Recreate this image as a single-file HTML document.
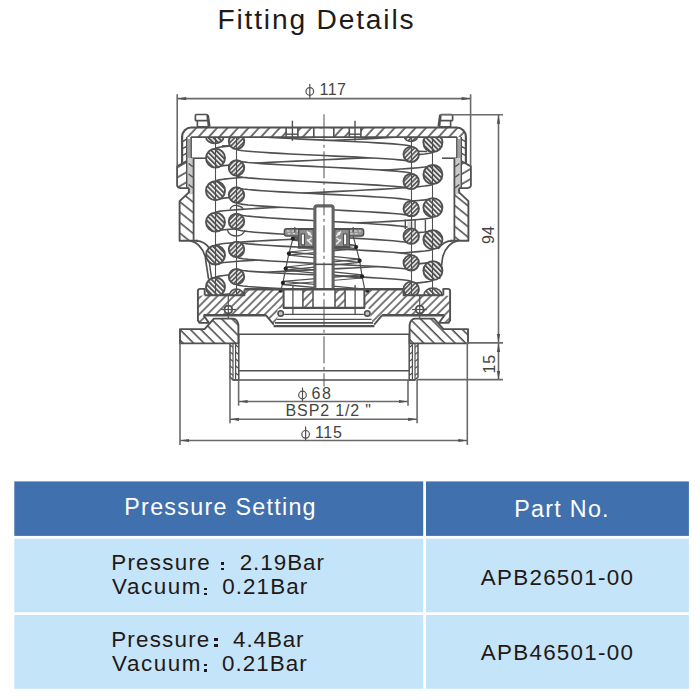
<!DOCTYPE html>
<html><head><meta charset="utf-8"><title>Fitting Details</title>
<style>
html,body{margin:0;padding:0;background:#fff;}
body{width:700px;height:700px;position:relative;overflow:hidden;font-family:"Liberation Sans",sans-serif;}
.t{position:absolute;white-space:nowrap;font-family:"Liberation Sans",sans-serif;}
.d{position:absolute;background:#231815;}
</style></head><body>
<svg width="700" height="700" viewBox="0 0 700 700" style="position:absolute;left:0;top:0"><rect x="14.3" y="481.4" width="408.9" height="54.5" fill="#4070ae"/><rect x="426.0" y="481.4" width="262.9" height="54.5" fill="#4070ae"/><rect x="14.3" y="538.7" width="408.9" height="73.6" fill="#c4e5f9"/><rect x="426.0" y="538.7" width="262.9" height="73.6" fill="#c4e5f9"/><rect x="14.3" y="615.0" width="408.9" height="73.8" fill="#c4e5f9"/><rect x="426.0" y="615.0" width="262.9" height="73.8" fill="#c4e5f9"/></svg>
<svg width="700" height="700" viewBox="0 0 700 700" style="position:absolute;left:0;top:0" stroke="#505050" fill="none" stroke-linecap="butt" stroke-linejoin="round">
<defs>
<pattern id="hCap" width="7.7" height="7.7" patternUnits="userSpaceOnUse" patternTransform="rotate(42.5) translate(-1.9 0)"><line x1="2" y1="-1" x2="2" y2="9" stroke-width="1.6"/></pattern>
<pattern id="hWall" width="8.1" height="8.1" patternUnits="userSpaceOnUse" patternTransform="rotate(-51) translate(3 0)"><line x1="2" y1="-1" x2="2" y2="10" stroke-width="1.6"/></pattern>
<pattern id="hSkirt" width="8.7" height="8.7" patternUnits="userSpaceOnUse" patternTransform="rotate(60) translate(5.5 0)"><line x1="2" y1="-1" x2="2" y2="10" stroke-width="1.6"/></pattern>
<pattern id="hPlate" width="5.8" height="5.8" patternUnits="userSpaceOnUse" patternTransform="rotate(45) translate(2.55 0)"><line x1="1" y1="-1" x2="1" y2="7" stroke-width="1.5"/></pattern>
<pattern id="hFl" width="7.4" height="7.4" patternUnits="userSpaceOnUse" patternTransform="rotate(-45) translate(3.26 0)"><line x1="2" y1="-1" x2="2" y2="9" stroke-width="1.6"/></pattern>
<pattern id="hBig" width="3.5" height="3.5" patternUnits="userSpaceOnUse" patternTransform="rotate(-45)"><line x1="1" y1="-1" x2="1" y2="5" stroke-width="1.95"/></pattern>
<pattern id="hSm" width="3.2" height="3.2" patternUnits="userSpaceOnUse" patternTransform="rotate(45)"><line x1="1" y1="-1" x2="1" y2="5" stroke-width="1.75"/></pattern>
</defs>
<g id="bigspring">
<path d="M215.5,148.6 L216.43,147.95 L219.2,147.3 L223.77,146.65 L230.06,146.0 L237.96,145.35 L247.34,144.7 L258.03,144.05 L269.85,143.4 L282.6,142.75 L296.07,142.1 L310.01,141.45 L324.2,140.8 L338.39,140.15 L352.33,139.5 L365.8,138.85 L378.55,138.2 L390.37,137.55 L401.06,136.9 L410.44,136.25 L418.34,135.6 L424.63,134.95 L429.2,134.3 L431.97,133.65 L432.9,133.0 L432.9,152.0 L431.97,152.65 L429.2,153.3 L424.63,153.95 L418.34,154.6 L410.44,155.25 L401.06,155.9 L390.37,156.55 L378.55,157.2 L365.8,157.85 L352.33,158.5 L338.39,159.15 L324.2,159.8 L310.01,160.45 L296.07,161.1 L282.6,161.75 L269.85,162.4 L258.03,163.05 L247.34,163.7 L237.96,164.35 L230.06,165.0 L223.77,165.65 L219.2,166.3 L216.43,166.95 L215.5,167.6 Z" fill="#fff" stroke-width="1.0" stroke="none"/>
<path d="M215.5,148.6 L216.43,147.95 L219.2,147.3 L223.77,146.65 L230.06,146.0 L237.96,145.35 L247.34,144.7 L258.03,144.05 L269.85,143.4 L282.6,142.75 L296.07,142.1 L310.01,141.45 L324.2,140.8 L338.39,140.15 L352.33,139.5 L365.8,138.85 L378.55,138.2 L390.37,137.55 L401.06,136.9 L410.44,136.25 L418.34,135.6 L424.63,134.95 L429.2,134.3 L431.97,133.65 L432.9,133.0" fill="none" stroke-width="1.6" />
<path d="M215.5,167.6 L216.43,166.95 L219.2,166.3 L223.77,165.65 L230.06,165.0 L237.96,164.35 L247.34,163.7 L258.03,163.05 L269.85,162.4 L282.6,161.75 L296.07,161.1 L310.01,160.45 L324.2,159.8 L338.39,159.15 L352.33,158.5 L365.8,157.85 L378.55,157.2 L390.37,156.55 L401.06,155.9 L410.44,155.25 L418.34,154.6 L424.63,153.95 L429.2,153.3 L431.97,152.65 L432.9,152.0" fill="none" stroke-width="1.6" />
<path d="M215.5,181.2 L216.43,180.52 L219.2,179.85 L223.77,179.17 L230.06,178.5 L237.96,177.82 L247.34,177.15 L258.03,176.47 L269.85,175.8 L282.6,175.12 L296.07,174.45 L310.01,173.78 L324.2,173.1 L338.39,172.42 L352.33,171.75 L365.8,171.07 L378.55,170.4 L390.37,169.72 L401.06,169.05 L410.44,168.38 L418.34,167.7 L424.63,167.03 L429.2,166.35 L431.97,165.68 L432.9,165.0 L432.9,184.0 L431.97,184.68 L429.2,185.35 L424.63,186.03 L418.34,186.7 L410.44,187.38 L401.06,188.05 L390.37,188.72 L378.55,189.4 L365.8,190.07 L352.33,190.75 L338.39,191.42 L324.2,192.1 L310.01,192.78 L296.07,193.45 L282.6,194.12 L269.85,194.8 L258.03,195.47 L247.34,196.15 L237.96,196.82 L230.06,197.5 L223.77,198.17 L219.2,198.85 L216.43,199.52 L215.5,200.2 Z" fill="#fff" stroke-width="1.0" stroke="none"/>
<path d="M215.5,181.2 L216.43,180.52 L219.2,179.85 L223.77,179.17 L230.06,178.5 L237.96,177.82 L247.34,177.15 L258.03,176.47 L269.85,175.8 L282.6,175.12 L296.07,174.45 L310.01,173.78 L324.2,173.1 L338.39,172.42 L352.33,171.75 L365.8,171.07 L378.55,170.4 L390.37,169.72 L401.06,169.05 L410.44,168.38 L418.34,167.7 L424.63,167.03 L429.2,166.35 L431.97,165.68 L432.9,165.0" fill="none" stroke-width="1.6" />
<path d="M215.5,200.2 L216.43,199.52 L219.2,198.85 L223.77,198.17 L230.06,197.5 L237.96,196.82 L247.34,196.15 L258.03,195.47 L269.85,194.8 L282.6,194.12 L296.07,193.45 L310.01,192.78 L324.2,192.1 L338.39,191.42 L352.33,190.75 L365.8,190.07 L378.55,189.4 L390.37,188.72 L401.06,188.05 L410.44,187.38 L418.34,186.7 L424.63,186.03 L429.2,185.35 L431.97,184.68 L432.9,184.0" fill="none" stroke-width="1.6" />
<path d="M215.5,212.6 L216.43,212.0 L219.2,211.39 L223.77,210.79 L230.06,210.18 L237.96,209.58 L247.34,208.97 L258.03,208.37 L269.85,207.77 L282.6,207.16 L296.07,206.56 L310.01,205.95 L324.2,205.35 L338.39,204.75 L352.33,204.14 L365.8,203.54 L378.55,202.93 L390.37,202.33 L401.06,201.72 L410.44,201.12 L418.34,200.52 L424.63,199.91 L429.2,199.31 L431.97,198.7 L432.9,198.1 L432.9,217.1 L431.97,217.7 L429.2,218.31 L424.63,218.91 L418.34,219.52 L410.44,220.12 L401.06,220.72 L390.37,221.33 L378.55,221.93 L365.8,222.54 L352.33,223.14 L338.39,223.75 L324.2,224.35 L310.01,224.95 L296.07,225.56 L282.6,226.16 L269.85,226.77 L258.03,227.37 L247.34,227.97 L237.96,228.58 L230.06,229.18 L223.77,229.79 L219.2,230.39 L216.43,231.0 L215.5,231.6 Z" fill="#fff" stroke-width="1.0" stroke="none"/>
<path d="M215.5,212.6 L216.43,212.0 L219.2,211.39 L223.77,210.79 L230.06,210.18 L237.96,209.58 L247.34,208.97 L258.03,208.37 L269.85,207.77 L282.6,207.16 L296.07,206.56 L310.01,205.95 L324.2,205.35 L338.39,204.75 L352.33,204.14 L365.8,203.54 L378.55,202.93 L390.37,202.33 L401.06,201.72 L410.44,201.12 L418.34,200.52 L424.63,199.91 L429.2,199.31 L431.97,198.7 L432.9,198.1" fill="none" stroke-width="1.6" />
<path d="M215.5,231.6 L216.43,231.0 L219.2,230.39 L223.77,229.79 L230.06,229.18 L237.96,228.58 L247.34,227.97 L258.03,227.37 L269.85,226.77 L282.6,226.16 L296.07,225.56 L310.01,224.95 L324.2,224.35 L338.39,223.75 L352.33,223.14 L365.8,222.54 L378.55,221.93 L390.37,221.33 L401.06,220.72 L410.44,220.12 L418.34,219.52 L424.63,218.91 L429.2,218.31 L431.97,217.7 L432.9,217.1" fill="none" stroke-width="1.6" />
<path d="M215.5,245.5 L216.43,244.86 L219.2,244.22 L223.77,243.57 L230.06,242.93 L237.96,242.29 L247.34,241.65 L258.03,241.01 L269.85,240.37 L282.6,239.72 L296.07,239.08 L310.01,238.44 L324.2,237.8 L338.39,237.16 L352.33,236.52 L365.8,235.88 L378.55,235.23 L390.37,234.59 L401.06,233.95 L410.44,233.31 L418.34,232.67 L424.63,232.03 L429.2,231.38 L431.97,230.74 L432.9,230.1 L432.9,249.1 L431.97,249.74 L429.2,250.38 L424.63,251.03 L418.34,251.67 L410.44,252.31 L401.06,252.95 L390.37,253.59 L378.55,254.23 L365.8,254.88 L352.33,255.52 L338.39,256.16 L324.2,256.8 L310.01,257.44 L296.07,258.08 L282.6,258.73 L269.85,259.37 L258.03,260.01 L247.34,260.65 L237.96,261.29 L230.06,261.93 L223.77,262.57 L219.2,263.22 L216.43,263.86 L215.5,264.5 Z" fill="#fff" stroke-width="1.0" stroke="none"/>
<path d="M215.5,245.5 L216.43,244.86 L219.2,244.22 L223.77,243.57 L230.06,242.93 L237.96,242.29 L247.34,241.65 L258.03,241.01 L269.85,240.37 L282.6,239.72 L296.07,239.08 L310.01,238.44 L324.2,237.8 L338.39,237.16 L352.33,236.52 L365.8,235.88 L378.55,235.23 L390.37,234.59 L401.06,233.95 L410.44,233.31 L418.34,232.67 L424.63,232.03 L429.2,231.38 L431.97,230.74 L432.9,230.1" fill="none" stroke-width="1.6" />
<path d="M215.5,264.5 L216.43,263.86 L219.2,263.22 L223.77,262.57 L230.06,261.93 L237.96,261.29 L247.34,260.65 L258.03,260.01 L269.85,259.37 L282.6,258.73 L296.07,258.08 L310.01,257.44 L324.2,256.8 L338.39,256.16 L352.33,255.52 L365.8,254.88 L378.55,254.23 L390.37,253.59 L401.06,252.95 L410.44,252.31 L418.34,251.67 L424.63,251.03 L429.2,250.38 L431.97,249.74 L432.9,249.1" fill="none" stroke-width="1.6" />
<path d="M215.5,277.5 L216.43,276.82 L219.2,276.13 L223.77,275.45 L230.06,274.77 L237.96,274.08 L247.34,273.4 L258.03,272.72 L269.85,272.03 L282.6,271.35 L296.07,270.67 L310.01,269.98 L324.2,269.3 L338.39,268.62 L352.33,267.93 L365.8,267.25 L378.55,266.57 L390.37,265.88 L401.06,265.2 L410.44,264.52 L418.34,263.83 L424.63,263.15 L429.2,262.47 L431.97,261.78 L432.9,261.1 L432.9,280.1 L431.97,280.78 L429.2,281.47 L424.63,282.15 L418.34,282.83 L410.44,283.52 L401.06,284.2 L390.37,284.88 L378.55,285.57 L365.8,286.25 L352.33,286.93 L338.39,287.62 L324.2,288.3 L310.01,288.98 L296.07,289.67 L282.6,290.35 L269.85,291.03 L258.03,291.72 L247.34,292.4 L237.96,293.08 L230.06,293.77 L223.77,294.45 L219.2,295.13 L216.43,295.82 L215.5,296.5 Z" fill="#fff" stroke-width="1.0" stroke="none"/>
<path d="M215.5,277.5 L216.43,276.82 L219.2,276.13 L223.77,275.45 L230.06,274.77 L237.96,274.08 L247.34,273.4 L258.03,272.72 L269.85,272.03 L282.6,271.35 L296.07,270.67 L310.01,269.98 L324.2,269.3 L338.39,268.62 L352.33,267.93 L365.8,267.25 L378.55,266.57 L390.37,265.88 L401.06,265.2 L410.44,264.52 L418.34,263.83 L424.63,263.15 L429.2,262.47 L431.97,261.78 L432.9,261.1" fill="none" stroke-width="1.6" />
<path d="M215.5,296.5 L216.43,295.82 L219.2,295.13 L223.77,294.45 L230.06,293.77 L237.96,293.08 L247.34,292.4 L258.03,291.72 L269.85,291.03 L282.6,290.35 L296.07,289.67 L310.01,288.98 L324.2,288.3 L338.39,287.62 L352.33,286.93 L365.8,286.25 L378.55,285.57 L390.37,284.88 L401.06,284.2 L410.44,283.52 L418.34,282.83 L424.63,282.15 L429.2,281.47 L431.97,280.78 L432.9,280.1" fill="none" stroke-width="1.6" />
</g>
<line x1="222" y1="145.8" x2="427" y2="151.5" stroke-width="1.5" />
<g id="smallspring">
<path d="M236.5,133.7 L237.25,134.24 L239.48,134.78 L243.15,135.31 L248.2,135.85 L254.55,136.39 L262.08,136.93 L270.67,137.46 L280.18,138.0 L290.42,138.54 L301.24,139.08 L312.45,139.61 L323.85,140.15 L335.25,140.69 L346.46,141.23 L357.28,141.76 L367.52,142.3 L377.03,142.84 L385.62,143.38 L393.15,143.91 L399.5,144.45 L404.55,144.99 L408.22,145.53 L410.45,146.06 L411.2,146.6 L411.2,162.0 L410.45,161.46 L408.22,160.93 L404.55,160.39 L399.5,159.85 L393.15,159.31 L385.62,158.78 L377.03,158.24 L367.52,157.7 L357.28,157.16 L346.46,156.62 L335.25,156.09 L323.85,155.55 L312.45,155.01 L301.24,154.47 L290.42,153.94 L280.18,153.4 L270.67,152.86 L262.08,152.32 L254.55,151.79 L248.2,151.25 L243.15,150.71 L239.48,150.17 L237.25,149.64 L236.5,149.1 Z" fill="#fff" stroke-width="1.0" stroke="none"/>
<path d="M236.5,133.7 L237.25,134.24 L239.48,134.78 L243.15,135.31 L248.2,135.85 L254.55,136.39 L262.08,136.93 L270.67,137.46 L280.18,138.0 L290.42,138.54 L301.24,139.08 L312.45,139.61 L323.85,140.15 L335.25,140.69 L346.46,141.23 L357.28,141.76 L367.52,142.3 L377.03,142.84 L385.62,143.38 L393.15,143.91 L399.5,144.45 L404.55,144.99 L408.22,145.53 L410.45,146.06 L411.2,146.6" fill="none" stroke-width="1.6" />
<path d="M236.5,149.1 L237.25,149.64 L239.48,150.17 L243.15,150.71 L248.2,151.25 L254.55,151.79 L262.08,152.32 L270.67,152.86 L280.18,153.4 L290.42,153.94 L301.24,154.47 L312.45,155.01 L323.85,155.55 L335.25,156.09 L346.46,156.62 L357.28,157.16 L367.52,157.7 L377.03,158.24 L385.62,158.78 L393.15,159.31 L399.5,159.85 L404.55,160.39 L408.22,160.93 L410.45,161.46 L411.2,162.0" fill="none" stroke-width="1.6" />
<path d="M236.5,160.2 L237.25,160.76 L239.48,161.33 L243.15,161.89 L248.2,162.45 L254.55,163.01 L262.08,163.58 L270.67,164.14 L280.18,164.7 L290.42,165.26 L301.24,165.83 L312.45,166.39 L323.85,166.95 L335.25,167.51 L346.46,168.08 L357.28,168.64 L367.52,169.2 L377.03,169.76 L385.62,170.33 L393.15,170.89 L399.5,171.45 L404.55,172.01 L408.22,172.58 L410.45,173.14 L411.2,173.7 L411.2,189.1 L410.45,188.54 L408.22,187.97 L404.55,187.41 L399.5,186.85 L393.15,186.29 L385.62,185.72 L377.03,185.16 L367.52,184.6 L357.28,184.04 L346.46,183.47 L335.25,182.91 L323.85,182.35 L312.45,181.79 L301.24,181.22 L290.42,180.66 L280.18,180.1 L270.67,179.54 L262.08,178.97 L254.55,178.41 L248.2,177.85 L243.15,177.29 L239.48,176.72 L237.25,176.16 L236.5,175.6 Z" fill="#fff" stroke-width="1.0" stroke="none"/>
<path d="M236.5,160.2 L237.25,160.76 L239.48,161.33 L243.15,161.89 L248.2,162.45 L254.55,163.01 L262.08,163.58 L270.67,164.14 L280.18,164.7 L290.42,165.26 L301.24,165.83 L312.45,166.39 L323.85,166.95 L335.25,167.51 L346.46,168.08 L357.28,168.64 L367.52,169.2 L377.03,169.76 L385.62,170.33 L393.15,170.89 L399.5,171.45 L404.55,172.01 L408.22,172.58 L410.45,173.14 L411.2,173.7" fill="none" stroke-width="1.6" />
<path d="M236.5,175.6 L237.25,176.16 L239.48,176.72 L243.15,177.29 L248.2,177.85 L254.55,178.41 L262.08,178.97 L270.67,179.54 L280.18,180.1 L290.42,180.66 L301.24,181.22 L312.45,181.79 L323.85,182.35 L335.25,182.91 L346.46,183.47 L357.28,184.04 L367.52,184.6 L377.03,185.16 L385.62,185.72 L393.15,186.29 L399.5,186.85 L404.55,187.41 L408.22,187.97 L410.45,188.54 L411.2,189.1" fill="none" stroke-width="1.6" />
<path d="M236.5,187.3 L237.25,187.87 L239.48,188.43 L243.15,189.0 L248.2,189.57 L254.55,190.13 L262.08,190.7 L270.67,191.27 L280.18,191.83 L290.42,192.4 L301.24,192.97 L312.45,193.53 L323.85,194.1 L335.25,194.67 L346.46,195.23 L357.28,195.8 L367.52,196.37 L377.03,196.93 L385.62,197.5 L393.15,198.07 L399.5,198.63 L404.55,199.2 L408.22,199.77 L410.45,200.33 L411.2,200.9 L411.2,216.3 L410.45,215.73 L408.22,215.17 L404.55,214.6 L399.5,214.03 L393.15,213.47 L385.62,212.9 L377.03,212.33 L367.52,211.77 L357.28,211.2 L346.46,210.63 L335.25,210.07 L323.85,209.5 L312.45,208.93 L301.24,208.37 L290.42,207.8 L280.18,207.23 L270.67,206.67 L262.08,206.1 L254.55,205.53 L248.2,204.97 L243.15,204.4 L239.48,203.83 L237.25,203.27 L236.5,202.7 Z" fill="#fff" stroke-width="1.0" stroke="none"/>
<path d="M236.5,187.3 L237.25,187.87 L239.48,188.43 L243.15,189.0 L248.2,189.57 L254.55,190.13 L262.08,190.7 L270.67,191.27 L280.18,191.83 L290.42,192.4 L301.24,192.97 L312.45,193.53 L323.85,194.1 L335.25,194.67 L346.46,195.23 L357.28,195.8 L367.52,196.37 L377.03,196.93 L385.62,197.5 L393.15,198.07 L399.5,198.63 L404.55,199.2 L408.22,199.77 L410.45,200.33 L411.2,200.9" fill="none" stroke-width="1.6" />
<path d="M236.5,202.7 L237.25,203.27 L239.48,203.83 L243.15,204.4 L248.2,204.97 L254.55,205.53 L262.08,206.1 L270.67,206.67 L280.18,207.23 L290.42,207.8 L301.24,208.37 L312.45,208.93 L323.85,209.5 L335.25,210.07 L346.46,210.63 L357.28,211.2 L367.52,211.77 L377.03,212.33 L385.62,212.9 L393.15,213.47 L399.5,214.03 L404.55,214.6 L408.22,215.17 L410.45,215.73 L411.2,216.3" fill="none" stroke-width="1.6" />
<path d="M236.5,213.7 L237.25,214.32 L239.48,214.93 L243.15,215.55 L248.2,216.17 L254.55,216.78 L262.08,217.4 L270.67,218.02 L280.18,218.63 L290.42,219.25 L301.24,219.87 L312.45,220.48 L323.85,221.1 L335.25,221.72 L346.46,222.33 L357.28,222.95 L367.52,223.57 L377.03,224.18 L385.62,224.8 L393.15,225.42 L399.5,226.03 L404.55,226.65 L408.22,227.27 L410.45,227.88 L411.2,228.5 L411.2,243.9 L410.45,243.28 L408.22,242.67 L404.55,242.05 L399.5,241.43 L393.15,240.82 L385.62,240.2 L377.03,239.58 L367.52,238.97 L357.28,238.35 L346.46,237.73 L335.25,237.12 L323.85,236.5 L312.45,235.88 L301.24,235.27 L290.42,234.65 L280.18,234.03 L270.67,233.42 L262.08,232.8 L254.55,232.18 L248.2,231.57 L243.15,230.95 L239.48,230.33 L237.25,229.72 L236.5,229.1 Z" fill="#fff" stroke-width="1.0" stroke="none"/>
<path d="M236.5,213.7 L237.25,214.32 L239.48,214.93 L243.15,215.55 L248.2,216.17 L254.55,216.78 L262.08,217.4 L270.67,218.02 L280.18,218.63 L290.42,219.25 L301.24,219.87 L312.45,220.48 L323.85,221.1 L335.25,221.72 L346.46,222.33 L357.28,222.95 L367.52,223.57 L377.03,224.18 L385.62,224.8 L393.15,225.42 L399.5,226.03 L404.55,226.65 L408.22,227.27 L410.45,227.88 L411.2,228.5" fill="none" stroke-width="1.6" />
<path d="M236.5,229.1 L237.25,229.72 L239.48,230.33 L243.15,230.95 L248.2,231.57 L254.55,232.18 L262.08,232.8 L270.67,233.42 L280.18,234.03 L290.42,234.65 L301.24,235.27 L312.45,235.88 L323.85,236.5 L335.25,237.12 L346.46,237.73 L357.28,238.35 L367.52,238.97 L377.03,239.58 L385.62,240.2 L393.15,240.82 L399.5,241.43 L404.55,242.05 L408.22,242.67 L410.45,243.28 L411.2,243.9" fill="none" stroke-width="1.6" />
<path d="M236.5,241.6 L237.25,242.16 L239.48,242.73 L243.15,243.29 L248.2,243.85 L254.55,244.41 L262.08,244.98 L270.67,245.54 L280.18,246.1 L290.42,246.66 L301.24,247.23 L312.45,247.79 L323.85,248.35 L335.25,248.91 L346.46,249.48 L357.28,250.04 L367.52,250.6 L377.03,251.16 L385.62,251.73 L393.15,252.29 L399.5,252.85 L404.55,253.41 L408.22,253.98 L410.45,254.54 L411.2,255.1 L411.2,270.5 L410.45,269.94 L408.22,269.38 L404.55,268.81 L399.5,268.25 L393.15,267.69 L385.62,267.12 L377.03,266.56 L367.52,266.0 L357.28,265.44 L346.46,264.88 L335.25,264.31 L323.85,263.75 L312.45,263.19 L301.24,262.62 L290.42,262.06 L280.18,261.5 L270.67,260.94 L262.08,260.38 L254.55,259.81 L248.2,259.25 L243.15,258.69 L239.48,258.12 L237.25,257.56 L236.5,257.0 Z" fill="#fff" stroke-width="1.0" stroke="none"/>
<path d="M236.5,241.6 L237.25,242.16 L239.48,242.73 L243.15,243.29 L248.2,243.85 L254.55,244.41 L262.08,244.98 L270.67,245.54 L280.18,246.1 L290.42,246.66 L301.24,247.23 L312.45,247.79 L323.85,248.35 L335.25,248.91 L346.46,249.48 L357.28,250.04 L367.52,250.6 L377.03,251.16 L385.62,251.73 L393.15,252.29 L399.5,252.85 L404.55,253.41 L408.22,253.98 L410.45,254.54 L411.2,255.1" fill="none" stroke-width="1.6" />
<path d="M236.5,257.0 L237.25,257.56 L239.48,258.12 L243.15,258.69 L248.2,259.25 L254.55,259.81 L262.08,260.38 L270.67,260.94 L280.18,261.5 L290.42,262.06 L301.24,262.62 L312.45,263.19 L323.85,263.75 L335.25,264.31 L346.46,264.88 L357.28,265.44 L367.52,266.0 L377.03,266.56 L385.62,267.12 L393.15,267.69 L399.5,268.25 L404.55,268.81 L408.22,269.38 L410.45,269.94 L411.2,270.5" fill="none" stroke-width="1.6" />
<path d="M236.5,269.0 L237.25,269.52 L239.48,270.05 L243.15,270.57 L248.2,271.1 L254.55,271.62 L262.08,272.15 L270.67,272.68 L280.18,273.2 L290.42,273.73 L301.24,274.25 L312.45,274.78 L323.85,275.3 L335.25,275.82 L346.46,276.35 L357.28,276.88 L367.52,277.4 L377.03,277.93 L385.62,278.45 L393.15,278.98 L399.5,279.5 L404.55,280.03 L408.22,280.55 L410.45,281.08 L411.2,281.6 L411.2,297.0 L410.45,296.48 L408.22,295.95 L404.55,295.43 L399.5,294.9 L393.15,294.38 L385.62,293.85 L377.03,293.32 L367.52,292.8 L357.28,292.27 L346.46,291.75 L335.25,291.22 L323.85,290.7 L312.45,290.18 L301.24,289.65 L290.42,289.12 L280.18,288.6 L270.67,288.07 L262.08,287.55 L254.55,287.02 L248.2,286.5 L243.15,285.97 L239.48,285.45 L237.25,284.92 L236.5,284.4 Z" fill="#fff" stroke-width="1.0" stroke="none"/>
<path d="M236.5,269.0 L237.25,269.52 L239.48,270.05 L243.15,270.57 L248.2,271.1 L254.55,271.62 L262.08,272.15 L270.67,272.68 L280.18,273.2 L290.42,273.73 L301.24,274.25 L312.45,274.78 L323.85,275.3 L335.25,275.82 L346.46,276.35 L357.28,276.88 L367.52,277.4 L377.03,277.93 L385.62,278.45 L393.15,278.98 L399.5,279.5 L404.55,280.03 L408.22,280.55 L410.45,281.08 L411.2,281.6" fill="none" stroke-width="1.6" />
<path d="M236.5,284.4 L237.25,284.92 L239.48,285.45 L243.15,285.97 L248.2,286.5 L254.55,287.02 L262.08,287.55 L270.67,288.07 L280.18,288.6 L290.42,289.12 L301.24,289.65 L312.45,290.18 L323.85,290.7 L335.25,291.22 L346.46,291.75 L357.28,292.27 L367.52,292.8 L377.03,293.32 L385.62,293.85 L393.15,294.38 L399.5,294.9 L404.55,295.43 L408.22,295.95 L410.45,296.48 L411.2,297.0" fill="none" stroke-width="1.6" />
</g>
<path d="M230,209.5 q2,-5 7,-4 q5,1 6,3.5" fill="none" stroke-width="1.3" />
<path d="M227,229 q2,7 9,7 q7,0 9,-6" fill="none" stroke-width="1.3" />
<line x1="405.3" y1="219.5" x2="405.3" y2="229" stroke-width="1.4" />
<line x1="415.1" y1="219.5" x2="415.1" y2="229" stroke-width="1.4" />
<line x1="425.4" y1="219.7" x2="425.4" y2="232.6" stroke-width="1.4" />
<rect x="407.5" y="221.5" width="6" height="6.5" fill="#d8d8d8" stroke="none"/>
<line x1="292.9" y1="237.0" x2="356.1" y2="245.5" stroke-width="1.3" />
<line x1="292.9" y1="240.2" x2="356.1" y2="248.7" stroke-width="1.3" />
<line x1="288.9" y1="252.0" x2="359.6" y2="259.09999999999997" stroke-width="1.3" />
<line x1="288.9" y1="255.2" x2="359.6" y2="262.3" stroke-width="1.3" />
<line x1="285.7" y1="267.0" x2="362.1" y2="274.79999999999995" stroke-width="1.3" />
<line x1="285.7" y1="270.20000000000005" x2="362.1" y2="278.0" stroke-width="1.3" />
<line x1="282.9" y1="281.29999999999995" x2="365.0" y2="289.09999999999997" stroke-width="1.3" />
<line x1="282.9" y1="284.5" x2="365.0" y2="292.3" stroke-width="1.3" />
<line x1="288.9" y1="252.0" x2="356.1" y2="245.5" stroke-width="1.2" />
<line x1="288.9" y1="255.2" x2="356.1" y2="248.7" stroke-width="1.2" />
<line x1="285.7" y1="267.0" x2="359.6" y2="259.09999999999997" stroke-width="1.2" />
<line x1="285.7" y1="270.20000000000005" x2="359.6" y2="262.3" stroke-width="1.2" />
<line x1="282.9" y1="281.29999999999995" x2="362.1" y2="274.79999999999995" stroke-width="1.2" />
<line x1="282.9" y1="284.5" x2="362.1" y2="278.0" stroke-width="1.2" />
<path d="M292.9,238.6 L288.9,253.6 L285.7,268.6 L282.9,282.9 L280.7,290.7" fill="none" stroke-width="1.2" />
<path d="M352.1,232.1 L356.1,247.1 L359.6,260.7 L362.1,276.4 L365.0,290.7" fill="none" stroke-width="1.2" />
<circle cx="292.9" cy="238.6" r="2.1" fill="#222" stroke="none"/>
<circle cx="288.9" cy="253.6" r="2.1" fill="#222" stroke="none"/>
<circle cx="285.7" cy="268.6" r="2.1" fill="#222" stroke="none"/>
<circle cx="282.9" cy="282.9" r="2.1" fill="#222" stroke="none"/>
<circle cx="280.7" cy="290.7" r="2.1" fill="#222" stroke="none"/>
<circle cx="352.1" cy="232.1" r="2.1" fill="#222" stroke="none"/>
<circle cx="356.1" cy="247.1" r="2.1" fill="#222" stroke="none"/>
<circle cx="359.6" cy="260.7" r="2.1" fill="#222" stroke="none"/>
<circle cx="362.1" cy="276.4" r="2.1" fill="#222" stroke="none"/>
<circle cx="365.0" cy="290.7" r="2.1" fill="#222" stroke="none"/>
<path d="M190,240.7 Q201.5,243.5 205.3,257 Q206.5,266 208.6,279" stroke-width="1.7"/>
<path d="M196,240.7 Q205,241.5 210,249" stroke-width="1.7"/>
<path d="M209.3,262 Q210.5,272 212,280" stroke-width="1.5"/>
<path d="M458.0,240.7 Q446.5,243.5 442.7,257 Q441.5,266 439.4,279" stroke-width="1.7"/>
<path d="M452.0,240.7 Q443.0,241.5 438.0,249" stroke-width="1.7"/>
<path d="M438.7,262 Q437.5,272 436.0,280" stroke-width="1.5"/>
<clipPath id="clipTop"><rect x="170" y="137.1" width="310" height="158"/></clipPath>
<g clip-path="url(#clipTop)">
<ellipse cx="214.8" cy="137.1" rx="8.9" ry="6.2" fill="#fff" stroke="none"/><ellipse cx="214.8" cy="137.1" rx="8.9" ry="6.2" fill="url(#hBig)" stroke-width="1.7"/>
<ellipse cx="411" cy="137.1" rx="6.5" ry="4.4" fill="#fff" stroke="none"/><ellipse cx="411" cy="137.1" rx="6.5" ry="4.4" fill="url(#hSm)" stroke-width="1.6"/>
<circle cx="215.5" cy="158.1" r="9.5" fill="#fff" stroke="none"/>
<circle cx="215.5" cy="158.1" r="9.5" fill="url(#hBig)" stroke-width="1.9"/>
<circle cx="215.5" cy="190.7" r="9.5" fill="#fff" stroke="none"/>
<circle cx="215.5" cy="190.7" r="9.5" fill="url(#hBig)" stroke-width="1.9"/>
<circle cx="215.5" cy="222.1" r="9.5" fill="#fff" stroke="none"/>
<circle cx="215.5" cy="222.1" r="9.5" fill="url(#hBig)" stroke-width="1.9"/>
<circle cx="215.5" cy="255.0" r="9.5" fill="#fff" stroke="none"/>
<circle cx="215.5" cy="255.0" r="9.5" fill="url(#hBig)" stroke-width="1.9"/>
<circle cx="215.5" cy="287.0" r="9.5" fill="#fff" stroke="none"/>
<circle cx="215.5" cy="287.0" r="9.5" fill="url(#hBig)" stroke-width="1.9"/>
<circle cx="432.9" cy="142.5" r="9.5" fill="#fff" stroke="none"/>
<circle cx="432.9" cy="142.5" r="9.5" fill="url(#hBig)" stroke-width="1.9"/>
<circle cx="432.9" cy="174.5" r="9.5" fill="#fff" stroke="none"/>
<circle cx="432.9" cy="174.5" r="9.5" fill="url(#hBig)" stroke-width="1.9"/>
<circle cx="432.9" cy="207.6" r="9.5" fill="#fff" stroke="none"/>
<circle cx="432.9" cy="207.6" r="9.5" fill="url(#hBig)" stroke-width="1.9"/>
<circle cx="432.9" cy="239.6" r="9.5" fill="#fff" stroke="none"/>
<circle cx="432.9" cy="239.6" r="9.5" fill="url(#hBig)" stroke-width="1.9"/>
<circle cx="432.9" cy="270.6" r="9.5" fill="#fff" stroke="none"/>
<circle cx="432.9" cy="270.6" r="9.5" fill="url(#hBig)" stroke-width="1.9"/>
<circle cx="236.5" cy="141.4" r="7.7" fill="#fff" stroke="none"/>
<circle cx="236.5" cy="141.4" r="7.7" fill="url(#hSm)" stroke-width="1.9"/>
<circle cx="236.5" cy="167.9" r="7.7" fill="#fff" stroke="none"/>
<circle cx="236.5" cy="167.9" r="7.7" fill="url(#hSm)" stroke-width="1.9"/>
<circle cx="236.5" cy="195.0" r="7.7" fill="#fff" stroke="none"/>
<circle cx="236.5" cy="195.0" r="7.7" fill="url(#hSm)" stroke-width="1.9"/>
<circle cx="236.5" cy="221.4" r="7.7" fill="#fff" stroke="none"/>
<circle cx="236.5" cy="221.4" r="7.7" fill="url(#hSm)" stroke-width="1.9"/>
<circle cx="236.5" cy="249.3" r="7.7" fill="#fff" stroke="none"/>
<circle cx="236.5" cy="249.3" r="7.7" fill="url(#hSm)" stroke-width="1.9"/>
<circle cx="236.5" cy="276.7" r="7.7" fill="#fff" stroke="none"/>
<circle cx="236.5" cy="276.7" r="7.7" fill="url(#hSm)" stroke-width="1.9"/>
<circle cx="411.2" cy="154.3" r="7.7" fill="#fff" stroke="none"/>
<circle cx="411.2" cy="154.3" r="7.7" fill="url(#hSm)" stroke-width="1.9"/>
<circle cx="411.2" cy="181.4" r="7.7" fill="#fff" stroke="none"/>
<circle cx="411.2" cy="181.4" r="7.7" fill="url(#hSm)" stroke-width="1.9"/>
<circle cx="411.2" cy="208.6" r="7.7" fill="#fff" stroke="none"/>
<circle cx="411.2" cy="208.6" r="7.7" fill="url(#hSm)" stroke-width="1.9"/>
<circle cx="411.2" cy="236.2" r="7.7" fill="#fff" stroke="none"/>
<circle cx="411.2" cy="236.2" r="7.7" fill="url(#hSm)" stroke-width="1.9"/>
<circle cx="411.2" cy="262.8" r="7.7" fill="#fff" stroke="none"/>
<circle cx="411.2" cy="262.8" r="7.7" fill="url(#hSm)" stroke-width="1.9"/>
<circle cx="411.2" cy="289.3" r="7.7" fill="#fff" stroke="none"/>
<circle cx="411.2" cy="289.3" r="7.7" fill="url(#hSm)" stroke-width="1.9"/>
<ellipse cx="432.9" cy="295" rx="9" ry="7" fill="#fff" stroke="none"/><ellipse cx="432.9" cy="295" rx="9" ry="7" fill="url(#hBig)" stroke-width="1.5"/>
<ellipse cx="236.5" cy="295.5" rx="7" ry="6.5" fill="#fff" stroke="none"/><ellipse cx="236.5" cy="295.5" rx="7" ry="6.5" fill="url(#hSm)" stroke-width="1.5"/>
</g>
<line x1="215.5" y1="137.5" x2="215.5" y2="300" stroke-width="1.1" />
<line x1="432.5" y1="137.5" x2="432.5" y2="300" stroke-width="1.1" />
<line x1="236.5" y1="137.5" x2="236.5" y2="298" stroke-width="1.1" />
<line x1="411.5" y1="137.5" x2="411.5" y2="298" stroke-width="1.1" />
<g id="retainer">
<path d="M286.6,228.7 H361.4 q2.2,0 2.2,2.2 V233.7 q0,2.2 -2.2,2.2 H286.6 q-2.2,0 -2.2,-2.2 V230.9 q0,-2.2 2.2,-2.2 Z" fill="#969696" stroke-width="1.5"/>
<line x1="287" y1="231.0" x2="361.0" y2="231.0" stroke-width="1.1" stroke="#e4e4e4" stroke-dasharray="2.6 2.2"/>
<line x1="288" y1="233.8" x2="360.0" y2="233.8" stroke-width="1.1" stroke="#e4e4e4" stroke-dasharray="2.2 2.6"/>
<rect x="298.7" y="229.2" width="14.70" height="17.4" fill="#8e8e8e" stroke-width="1.4"/>
<rect x="301.2" y="234" width="3.30" height="10.8" fill="#fff" stroke-width="1.2"/>
<line x1="307" y1="231.5" x2="311.8" y2="236.3" stroke-width="1.5" stroke="#efefef"/>
<line x1="307" y1="239.5" x2="311.8" y2="244.3" stroke-width="1.5" stroke="#efefef"/>
<line x1="311.5" y1="238.2" x2="307.5" y2="241.0" stroke-width="1.5" stroke="#efefef"/>
<circle cx="309.2" cy="233.4" r="1.5" fill="#efefef" stroke="none"/>
<line x1="294.8" y1="226.9" x2="294.8" y2="232.5" stroke-width="1.2" />
<rect x="334.6" y="229.2" width="14.70" height="17.4" fill="#8e8e8e" stroke-width="1.4"/>
<rect x="343.5" y="234" width="3.30" height="10.8" fill="#fff" stroke-width="1.2"/>
<line x1="341.0" y1="231.5" x2="336.2" y2="236.3" stroke-width="1.5" stroke="#efefef"/>
<line x1="341.0" y1="239.5" x2="336.2" y2="244.3" stroke-width="1.5" stroke="#efefef"/>
<line x1="336.5" y1="238.2" x2="340.5" y2="241.0" stroke-width="1.5" stroke="#efefef"/>
<circle cx="338.8" cy="233.4" r="1.5" fill="#efefef" stroke="none"/>
<line x1="353.2" y1="226.9" x2="353.2" y2="232.5" stroke-width="1.2" />
<line x1="297.8" y1="247.6" x2="350.2" y2="247.6" stroke-width="2.2" />
</g>
<path d="M314.9,308 V207.9 q0,-2 2,-2 H331.1 q2,0 2,2 V308 Z" fill="#fff" stroke="#636363" stroke-width="3.1"/>
<line x1="314.6" y1="264.3" x2="333.4" y2="264.3" stroke-width="1.6" />
<path d="M191.3,127.5 H456.7 a9.2,9.2 0 0 1 9.2,9.2 V137.1 H182.1 V136.7 a9.2,9.2 0 0 1 9.2,-9.2 Z" fill="#fff" stroke="none"/>
<path d="M191.3,127.5 H456.7 a9.2,9.2 0 0 1 9.2,9.2 V137.1 H182.1 V136.7 a9.2,9.2 0 0 1 9.2,-9.2 Z" fill="url(#hCap)" stroke="none"/>
<rect x="177.1" y="137.1" width="17.20" height="103.6" fill="#fff" stroke="none"/>
<rect x="453.7" y="137.1" width="17.20" height="103.6" fill="#fff" stroke="none"/>
<rect x="286.1" y="128.4" width="11.80" height="8.0" fill="#fff" stroke="none"/>
<line x1="286.1" y1="127.5" x2="286.1" y2="137.1" stroke-width="1.6" />
<line x1="297.9" y1="127.5" x2="297.9" y2="137.1" stroke-width="1.6" />
<rect x="313.8" y="128.4" width="20.00" height="8.0" fill="#fff" stroke="none"/>
<line x1="313.8" y1="127.5" x2="313.8" y2="137.1" stroke-width="1.6" />
<line x1="333.8" y1="127.5" x2="333.8" y2="137.1" stroke-width="1.6" />
<rect x="349.3" y="128.4" width="11.60" height="8.0" fill="#fff" stroke="none"/>
<line x1="349.3" y1="127.5" x2="349.3" y2="137.1" stroke-width="1.6" />
<line x1="360.9" y1="127.5" x2="360.9" y2="137.1" stroke-width="1.6" />
<line x1="286.1" y1="134.2" x2="297.9" y2="134.2" stroke-width="1.4" />
<line x1="349.3" y1="134.2" x2="360.9" y2="134.2" stroke-width="1.4" />
<line x1="292.4" y1="120.7" x2="292.4" y2="140.8" stroke-width="1.4" />
<line x1="355.0" y1="120.7" x2="355.0" y2="140.8" stroke-width="1.4" />
<path d="M182.1,163 V136.7 a9.2,9.2 0 0 1 9.2,-9.2 H456.7 a9.2,9.2 0 0 1 9.2,9.2 V163" fill="none" stroke-width="2.2" />
<line x1="191.1" y1="137.1" x2="456.9" y2="137.1" stroke-width="1.9" />
<line x1="186.8" y1="137.1" x2="186.8" y2="187.9" stroke-width="1.6" />
<line x1="191.1" y1="137.1" x2="191.1" y2="158.2" stroke-width="1.6" />
<line x1="189.0" y1="139" x2="189.0" y2="158" stroke-width="1.6" stroke="#8a8a8a"/>
<line x1="182.6" y1="141.6" x2="186.6" y2="139.2" stroke-width="1.4" />
<line x1="182.6" y1="148.70000000000002" x2="186.6" y2="146.3" stroke-width="1.4" />
<line x1="182.6" y1="155.5" x2="186.6" y2="153.1" stroke-width="1.4" />
<line x1="191.1" y1="158.2" x2="206" y2="158.2" stroke-width="1.6" />
<rect x="187.9" y="158.2" width="5.70" height="36" fill="#c9c9c9" stroke="none"/>
<line x1="188.6" y1="163.5" x2="192.8" y2="166.8" stroke-width="1.4" />
<line x1="188.6" y1="174" x2="192.8" y2="177.3" stroke-width="1.4" />
<line x1="188.6" y1="184.5" x2="192.8" y2="187.8" stroke-width="1.4" />
<line x1="193.6" y1="158.2" x2="193.6" y2="240.7" stroke-width="1.8" />
<path d="M177.1,166.4 L182.1,163.2 L186.8,161 L186.8,187.9 L180.7,188.2 L178.2,187.4 L177.1,185.7 Z" fill="url(#hSkirt)" stroke-width="1.0" stroke="none"/>
<path d="M186.8,161 L177.1,166.4 L177.1,185.7 L178.2,187.4 L180.7,188.2 L188.9,188.2" fill="none" stroke-width="1.8" />
<path d="M179.6,201.1 L188.6,192.6 L193.6,192.6 L193.6,240.7 L179.6,240.7 Z" fill="url(#hWall)" stroke-width="1.0" stroke="none"/>
<path d="M188.9,188.2 L188.9,192.4 L179.6,201.1 L179.6,240.7 L198,240.7" fill="none" stroke-width="1.9" />
<line x1="461.2" y1="137.1" x2="461.2" y2="187.9" stroke-width="1.6" />
<line x1="456.9" y1="137.1" x2="456.9" y2="158.2" stroke-width="1.6" />
<line x1="459.0" y1="139" x2="459.0" y2="158" stroke-width="1.6" stroke="#8a8a8a"/>
<line x1="465.4" y1="141.6" x2="461.4" y2="139.2" stroke-width="1.4" />
<line x1="465.4" y1="148.70000000000002" x2="461.4" y2="146.3" stroke-width="1.4" />
<line x1="465.4" y1="155.5" x2="461.4" y2="153.1" stroke-width="1.4" />
<line x1="456.9" y1="158.2" x2="442.0" y2="158.2" stroke-width="1.6" />
<rect x="454.4" y="158.2" width="5.70" height="36" fill="#c9c9c9" stroke="none"/>
<line x1="459.4" y1="163.5" x2="455.2" y2="166.8" stroke-width="1.4" />
<line x1="459.4" y1="174" x2="455.2" y2="177.3" stroke-width="1.4" />
<line x1="459.4" y1="184.5" x2="455.2" y2="187.8" stroke-width="1.4" />
<line x1="454.4" y1="158.2" x2="454.4" y2="240.7" stroke-width="1.8" />
<path d="M470.9,166.4 L465.9,163.2 L461.2,161 L461.2,187.9 L467.3,188.2 L469.8,187.4 L470.9,185.7 Z" fill="url(#hSkirt)" stroke-width="1.0" stroke="none"/>
<path d="M461.2,161 L470.9,166.4 L470.9,185.7 L469.8,187.4 L467.3,188.2 L459.1,188.2" fill="none" stroke-width="1.8" />
<path d="M468.4,201.1 L459.4,192.6 L454.4,192.6 L454.4,240.7 L468.4,240.7 Z" fill="url(#hWall)" stroke-width="1.0" stroke="none"/>
<path d="M459.1,188.2 L459.1,192.4 L468.4,201.1 L468.4,240.7 L450.0,240.7" fill="none" stroke-width="1.9" />
<rect x="195.4" y="114.5" width="12.20" height="6.2" rx="1" fill="#fff" stroke-width="1.7"/>
<rect x="197.4" y="120.7" width="11.00" height="6.0" fill="#fff" stroke-width="1.6"/>
<line x1="207.7" y1="115.2" x2="209.3" y2="126.6" stroke-width="2.6" />
<rect x="440.4" y="114.5" width="12.20" height="6.2" rx="1" fill="#fff" stroke-width="1.7"/>
<rect x="439.6" y="120.7" width="11.00" height="6.0" fill="#fff" stroke-width="1.6"/>
<line x1="440.3" y1="115.2" x2="438.7" y2="126.6" stroke-width="2.6" />
<g id="plate">
<path d="M197.9,288.7 L204.7,288.7 L204.7,295.3 L244.4,295.3 L244.4,289.4 L324,289.4 L324,326.4 L274.3,326.4 L265.8,315 L203.6,315 L208.9,322.9 L197.9,322.9 Z" fill="#fff" stroke-width="1" stroke="none"/>
<path d="M197.9,296 L204.7,295.3 L244.4,295.3 L244.4,289.4 L282.9,289.4 L282.9,307 L277.5,309.5 L277.5,317 L274.8,324 L273.6,324.3 L265.8,315 L203.6,315 L208.9,322.9 L199.6,322.9 L197.9,320.4 Z" fill="url(#hPlate)" stroke-width="1.0" stroke="none"/>
<path d="M204.7,295.3 V288.9 H200.2 Q197.9,288.9 197.9,291.2 V320.4 L199.6,322.9 H208.9 L203.6,315.2" fill="none" stroke-width="1.9" />
<path d="M204.7,295.3 L244.4,295.3 L244.4,289.4" fill="none" stroke-width="1.9" />
<line x1="203.6" y1="315.2" x2="265.8" y2="315.2" stroke-width="2.6" />
<path d="M265.8,315.2 L273.8,324.6" fill="none" stroke-width="1.9" />
<circle cx="228.3" cy="309.5" r="3.9" fill="#fff" stroke-width="1.8"/>
<line x1="221" y1="309.5" x2="236" y2="309.5" stroke-width="1.2" />
<line x1="228.3" y1="296" x2="228.3" y2="326" stroke-width="1.2" />
<line x1="283.6" y1="289.4" x2="283.6" y2="307.9" stroke-width="2.0" />
<line x1="292.9" y1="285" x2="292.9" y2="314.5" stroke-width="1.3" />
<rect x="302.9" y="289.4" width="10.10" height="18.5" fill="url(#hPlate)" stroke-width="1.5"/>
<circle cx="280.7" cy="313.4" r="2.7" fill="#c4c4c4" stroke-width="1.6"/>
<circle cx="280.7" cy="290.7" r="2.1" fill="#222" stroke="none"/>
<path d="M450.1,288.7 L443.3,288.7 L443.3,295.3 L403.6,295.3 L403.6,289.4 L324.0,289.4 L324.0,326.4 L373.7,326.4 L382.2,315 L444.4,315 L439.1,322.9 L450.1,322.9 Z" fill="#fff" stroke-width="1" stroke="none"/>
<path d="M450.1,296 L443.3,295.3 L403.6,295.3 L403.6,289.4 L365.1,289.4 L365.1,307 L370.5,309.5 L370.5,317 L373.2,324 L374.4,324.3 L382.2,315 L444.4,315 L439.1,322.9 L448.4,322.9 L450.1,320.4 Z" fill="url(#hPlate)" stroke-width="1.0" stroke="none"/>
<path d="M443.3,295.3 V288.9 H447.8 Q450.1,288.9 450.1,291.2 V320.4 L448.4,322.9 H439.1 L444.4,315.2" fill="none" stroke-width="1.9" />
<path d="M443.3,295.3 L403.6,295.3 L403.6,289.4" fill="none" stroke-width="1.9" />
<line x1="444.4" y1="315.2" x2="382.2" y2="315.2" stroke-width="2.6" />
<path d="M382.2,315.2 L374.2,324.6" fill="none" stroke-width="1.9" />
<circle cx="419.7" cy="309.5" r="3.9" fill="#fff" stroke-width="1.8"/>
<line x1="427.0" y1="309.5" x2="412.0" y2="309.5" stroke-width="1.2" />
<line x1="419.7" y1="296" x2="419.7" y2="326" stroke-width="1.2" />
<line x1="364.4" y1="289.4" x2="364.4" y2="307.9" stroke-width="2.0" />
<line x1="355.1" y1="285" x2="355.1" y2="314.5" stroke-width="1.3" />
<rect x="335.0" y="289.4" width="10.10" height="18.5" fill="url(#hPlate)" stroke-width="1.5"/>
<circle cx="367.3" cy="313.4" r="2.7" fill="#c4c4c4" stroke-width="1.6"/>
<circle cx="367.3" cy="290.7" r="2.1" fill="#222" stroke="none"/>
<line x1="244.4" y1="289.3" x2="403.6" y2="289.3" stroke-width="2.5" />
<line x1="282.9" y1="307.9" x2="365.1" y2="307.9" stroke-width="2.4" />
<line x1="284.3" y1="314.3" x2="363.7" y2="314.3" stroke-width="1.3" />
<line x1="276.4" y1="319.3" x2="371.6" y2="319.3" stroke-width="1.3" />
<line x1="275" y1="322.9" x2="373.0" y2="322.9" stroke-width="1.6" />
<line x1="273.6" y1="326.2" x2="374.4" y2="326.2" stroke-width="2.2" />
</g>
<path d="M180,329.1 H204.6 L213.9,318.6 H233 Q237.5,318.8 238.4,325 V343.4 H180 Z" fill="#fff" stroke-width="1.0" stroke="none"/>
<path d="M180,329.1 H204.6 L213.9,318.6 H233 Q237.5,318.8 238.4,325 V343.4 H180 Z" fill="url(#hFl)" stroke-width="1.9" />
<path d="M230,343.4 L230,377 L233,380 L238.8,380 L238.8,334.3" fill="none" stroke-width="1.5" />
<line x1="233" y1="343.4" x2="233" y2="379" stroke-width="1.2" />
<line x1="235.6" y1="343.4" x2="235.6" y2="379" stroke-width="1.2" />
<line x1="230" y1="345" x2="233" y2="347.4" stroke-width="1.2" />
<line x1="235.6" y1="345" x2="238.8" y2="347.4" stroke-width="1.2" />
<line x1="230" y1="352" x2="233" y2="354.4" stroke-width="1.2" />
<line x1="235.6" y1="352" x2="238.8" y2="354.4" stroke-width="1.2" />
<line x1="230" y1="359" x2="233" y2="361.4" stroke-width="1.2" />
<line x1="235.6" y1="359" x2="238.8" y2="361.4" stroke-width="1.2" />
<line x1="230" y1="366" x2="233" y2="368.4" stroke-width="1.2" />
<line x1="235.6" y1="366" x2="238.8" y2="368.4" stroke-width="1.2" />
<line x1="230" y1="373" x2="233" y2="375.4" stroke-width="1.2" />
<line x1="235.6" y1="373" x2="238.8" y2="375.4" stroke-width="1.2" />
<path d="M468.0,329.1 H443.4 L434.1,318.6 H415.0 Q410.5,318.8 409.6,325 V343.4 H468.0 Z" fill="#fff" stroke-width="1.0" stroke="none"/>
<path d="M468.0,329.1 H443.4 L434.1,318.6 H415.0 Q410.5,318.8 409.6,325 V343.4 H468.0 Z" fill="url(#hFl)" stroke-width="1.9" />
<path d="M418.0,343.4 L418.0,377 L415.0,380 L409.2,380 L409.2,334.3" fill="none" stroke-width="1.5" />
<line x1="415.0" y1="343.4" x2="415.0" y2="379" stroke-width="1.2" />
<line x1="412.4" y1="343.4" x2="412.4" y2="379" stroke-width="1.2" />
<line x1="418.0" y1="345" x2="415.0" y2="347.4" stroke-width="1.2" />
<line x1="412.4" y1="345" x2="409.2" y2="347.4" stroke-width="1.2" />
<line x1="418.0" y1="352" x2="415.0" y2="354.4" stroke-width="1.2" />
<line x1="412.4" y1="352" x2="409.2" y2="354.4" stroke-width="1.2" />
<line x1="418.0" y1="359" x2="415.0" y2="361.4" stroke-width="1.2" />
<line x1="412.4" y1="359" x2="409.2" y2="361.4" stroke-width="1.2" />
<line x1="418.0" y1="366" x2="415.0" y2="368.4" stroke-width="1.2" />
<line x1="412.4" y1="366" x2="409.2" y2="368.4" stroke-width="1.2" />
<line x1="418.0" y1="373" x2="415.0" y2="375.4" stroke-width="1.2" />
<line x1="412.4" y1="373" x2="409.2" y2="375.4" stroke-width="1.2" />
<line x1="238.8" y1="334.3" x2="409.2" y2="334.3" stroke-width="1.5" />
<line x1="238.8" y1="370.7" x2="409.2" y2="370.7" stroke-width="1.5" />
<line x1="233" y1="380" x2="415.0" y2="380" stroke-width="1.6" />
<g id="dims" stroke="#6a6a6a">
<line x1="177.2" y1="94.3" x2="177.2" y2="166" stroke-width="1.6" />
<line x1="470.6" y1="94.3" x2="470.6" y2="166" stroke-width="1.6" />
<line x1="177.2" y1="98.6" x2="470.6" y2="98.6" stroke-width="1.6" />
<path d="M177.2,98.6 L186.20,97.00 L186.20,100.20 Z" fill="#505050" stroke="none"/>
<path d="M470.6,98.6 L461.60,100.20 L461.60,97.00 Z" fill="#505050" stroke="none"/>
<line x1="439.5" y1="114.7" x2="503" y2="114.7" stroke-width="1.6" />
<line x1="498.5" y1="114.7" x2="498.5" y2="380" stroke-width="1.6" />
<path d="M498.5,114.7 L500.10,123.70 L496.90,123.70 Z" fill="#505050" stroke="none"/>
<path d="M498.5,342.9 L496.90,333.90 L500.10,333.90 Z" fill="#505050" stroke="none"/>
<path d="M498.5,342.9 L500.10,351.90 L496.90,351.90 Z" fill="#505050" stroke="none"/>
<path d="M498.5,380 L496.90,371.00 L500.10,371.00 Z" fill="#505050" stroke="none"/>
<line x1="467.4" y1="342.9" x2="503" y2="342.9" stroke-width="1.6" />
<line x1="417" y1="379.6" x2="503" y2="379.6" stroke-width="1.6" />
<line x1="238.6" y1="380" x2="238.6" y2="405.7" stroke-width="1.6" />
<line x1="408" y1="380" x2="408" y2="405.7" stroke-width="1.6" />
<line x1="238.6" y1="401.5" x2="408" y2="401.5" stroke-width="1.6" />
<path d="M238.6,401.5 L247.60,399.90 L247.60,403.10 Z" fill="#505050" stroke="none"/>
<path d="M408,401.5 L399.00,403.10 L399.00,399.90 Z" fill="#505050" stroke="none"/>
<line x1="230" y1="376" x2="230" y2="423.3" stroke-width="1.6" />
<line x1="417.1" y1="380" x2="417.1" y2="423.3" stroke-width="1.6" />
<line x1="230" y1="419.3" x2="417.1" y2="419.3" stroke-width="1.6" />
<path d="M230,419.3 L239.00,417.70 L239.00,420.90 Z" fill="#505050" stroke="none"/>
<path d="M417.1,419.3 L408.10,420.90 L408.10,417.70 Z" fill="#505050" stroke="none"/>
<line x1="180" y1="343" x2="180" y2="445" stroke-width="1.6" />
<line x1="467.3" y1="343" x2="467.3" y2="445" stroke-width="1.6" />
<line x1="180" y1="440.5" x2="467.3" y2="440.5" stroke-width="1.6" />
<path d="M180,440.5 L189.00,438.90 L189.00,442.10 Z" fill="#505050" stroke="none"/>
<path d="M467.3,440.5 L458.30,442.10 L458.30,438.90 Z" fill="#505050" stroke="none"/>
</g>
<line x1="324.0" y1="114.3" x2="324.0" y2="386.5" stroke-width="1.0" stroke-dasharray="27 3.5 3 3.5"/>
<text x="319.6" y="95" style="font-family:'Liberation Sans',sans-serif;font-size:16px" fill="#444" stroke="none" letter-spacing="0.4">117</text>
<circle cx="309.8" cy="91.4" r="3.8" fill="none" stroke-width="1.2"/>
<line x1="309.8" y1="84" x2="309.8" y2="98.4" stroke-width="1.2" />
<text x="311.4" y="398.9" style="font-family:'Liberation Sans',sans-serif;font-size:16px" fill="#444" stroke="none" letter-spacing="1.6">68</text>
<circle cx="302.5" cy="395" r="3.8" fill="none" stroke-width="1.2"/>
<line x1="302.5" y1="387.6" x2="302.5" y2="401.5" stroke-width="1.2" />
<text x="285.6" y="416.4" style="font-family:'Liberation Sans',sans-serif;font-size:16px" fill="#444" stroke="none" letter-spacing="0.85">BSP2 1/2 "</text>
<text x="314.9" y="437.9" style="font-family:'Liberation Sans',sans-serif;font-size:16px" fill="#444" stroke="none" letter-spacing="0.7">115</text>
<circle cx="305.6" cy="434.3" r="3.8" fill="none" stroke-width="1.2"/>
<line x1="305.6" y1="426.6" x2="305.6" y2="440.5" stroke-width="1.2" />
<text transform="translate(494.3,243.9) rotate(-90)" style="font-family:'Liberation Sans',sans-serif;font-size:16px" fill="#444" stroke="none">94</text>
<text transform="translate(494.8,373.4) rotate(-90)" style="font-family:'Liberation Sans',sans-serif;font-size:16px" fill="#444" stroke="none" letter-spacing="0.8">15</text>
</svg>
<div class="t" style="left:217.4px;top:5.1px;font-size:28.2px;line-height:28.2px;letter-spacing:1.82px;color:#1f1a17">Fitting Details</div>
<div class="t" style="left:124.3px;top:496.1px;font-size:23.3px;line-height:23.3px;letter-spacing:1.27px;color:#fff">Pressure Setting</div>
<div class="t" style="left:514.3px;top:497.7px;font-size:23.3px;line-height:23.3px;letter-spacing:1.26px;color:#fff">Part No.</div>
<div class="t" style="left:111.2px;top:552.1px;font-size:22.4px;line-height:22.4px;letter-spacing:1.26px;color:#231815">Pressure</div>
<div class="t" style="left:239.7px;top:552.1px;font-size:22.4px;line-height:22.4px;letter-spacing:0.97px;color:#231815">2.19Bar</div>
<div class="t" style="left:112.1px;top:576.0px;font-size:22.4px;line-height:22.4px;letter-spacing:1.58px;color:#231815">Vacuum</div>
<div class="t" style="left:222.2px;top:576.0px;font-size:22.4px;line-height:22.4px;letter-spacing:1.1px;color:#231815">0.21Bar</div>
<div class="t" style="left:480.8px;top:567.3px;font-size:22.4px;line-height:22.4px;letter-spacing:1.27px;color:#231815">APB26501-00</div>
<div class="t" style="left:111.2px;top:628.5px;font-size:22.4px;line-height:22.4px;letter-spacing:1.21px;color:#231815">Pressure</div>
<div class="t" style="left:233.1px;top:628.5px;font-size:22.4px;line-height:22.4px;letter-spacing:0.9px;color:#231815">4.4Bar</div>
<div class="t" style="left:112.1px;top:653.0px;font-size:22.4px;line-height:22.4px;letter-spacing:1.58px;color:#231815">Vacuum</div>
<div class="t" style="left:221.9px;top:653.0px;font-size:22.4px;line-height:22.4px;letter-spacing:1.08px;color:#231815">0.21Bar</div>
<div class="t" style="left:480.8px;top:642.3px;font-size:22.4px;line-height:22.4px;letter-spacing:1.27px;color:#231815">APB46501-00</div>
<div class="d" style="left:220.6px;top:562.1px;width:3.5px;height:2.6px"></div>
<div class="d" style="left:220.6px;top:567.5px;width:3.5px;height:2.6px"></div>
<div class="d" style="left:203.9px;top:587.5px;width:3.0px;height:2.5px"></div>
<div class="d" style="left:203.9px;top:592.6px;width:3.0px;height:2.7px"></div>
<div class="d" style="left:214.4px;top:638.1px;width:3.3px;height:2.7px"></div>
<div class="d" style="left:214.4px;top:644.2px;width:3.3px;height:2.7px"></div>
<div class="d" style="left:203.9px;top:663.9px;width:3.0px;height:2.5px"></div>
<div class="d" style="left:203.9px;top:668.9px;width:3.0px;height:2.8px"></div>
</body></html>
